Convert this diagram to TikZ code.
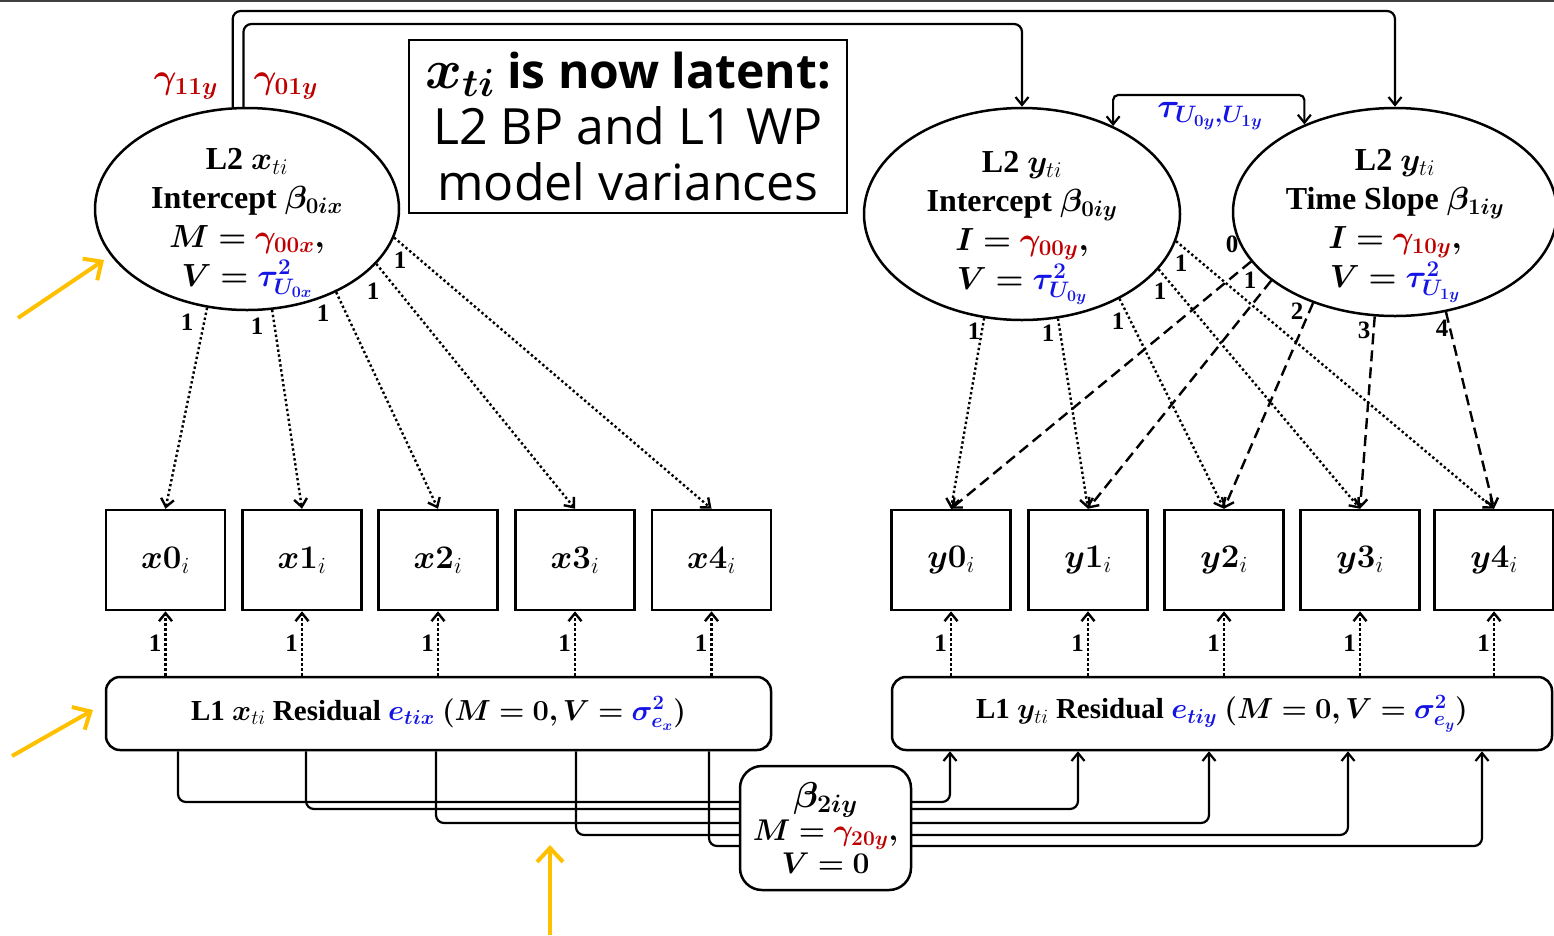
\RequirePackage{fix-cm}
\documentclass[tikz,border=0pt]{standalone}
\usepackage{amsmath}
\usepackage{bm}
\usepackage{fontspec}
\setmainfont{Liberation Serif}
\newfontfamily\headfont{Open Sans}
\usetikzlibrary{shapes.geometric,arrows.meta}
\definecolor{pathred}{RGB}{192,0,0}
\definecolor{varblue}{RGB}{20,20,230}
\definecolor{hint}{RGB}{255,192,0}
\newcommand{\gr}[1]{{\color{pathred}#1}}
\newcommand{\bl}[1]{{\color{varblue}#1}}
\newcommand{\fs}[2]{\fontsize{#1}{#2}\selectfont}

\tikzset{
  latent/.style={ellipse, draw, line width=2.5pt, inner sep=0pt},
  lattext/.style={align=center, inner sep=0pt, font=\fs{32}{39}\bfseries},
  obs/.style={rectangle, draw, line width=2.5pt, minimum width=119pt,
              minimum height=100pt, inner sep=0pt, font=\fs{33}{38}},
  resid/.style={rectangle, rounded corners=14pt, draw, line width=2.5pt,
                minimum height=73pt, inner sep=0pt, font=\fs{29}{34}\bfseries},
  modbox/.style={rectangle, rounded corners=22pt, draw, line width=2.5pt,
                 fill=white, minimum width=171pt, minimum height=124pt,
                 inner sep=0pt, align=center, font=\fs{30}{33}\bfseries},
  headbox/.style={rectangle, draw, line width=2pt, minimum width=438pt,
                  minimum height=173pt, inner sep=0pt, align=center,
                  font=\headfont\fs{50}{56}},
  lab/.style={inner sep=0pt, font=\fs{25}{25}\bfseries},
  conn/.style={line width=2.2pt, ->},
  dotc/.style={line width=2.4pt, dash pattern=on 2.4pt off 2.6pt, ->},
  dashc/.style={line width=2.4pt, dash pattern=on 11pt off 6pt, ->},
  hintarrow/.style={line width=4pt, color=hint,
                    -{Straight Barb[length=14pt,width=26pt]}}
}

\begin{document}
\begin{tikzpicture}[x=1pt, y=-1pt, >={Straight Barb[length=8pt,width=13pt]}]
\useasboundingbox (0,0) rectangle (1554,935);
\draw[line width=2pt, black!75] (0,1) -- (1554,1);

% ---------- level-2 latent factors ----------
\node[latent, minimum width=304pt, minimum height=202pt] (lx) at (247,209) {};
\node[lattext] (lxt) at (247,223)
  {L2 $\bm{x}_{ti}$\\ Intercept $\bm{\beta_{0ix}}$\\
   $\bm{M =} \gr{\bm{\gamma_{00x}}}\bm{,}$\\ $\bm{V =} \bl{\bm{\tau^2_{U_{0x}}}}$};

\node[latent, minimum width=316pt, minimum height=212pt] (yi) at (1022,214) {};
\node[lattext] (yit) at (1022,228)
  {L2 $\bm{y}_{ti}$\\ Intercept $\bm{\beta_{0iy}}$\\
   $\bm{I =} \gr{\bm{\gamma_{00y}}}\bm{,}$\\ $\bm{V =} \bl{\bm{\tau^2_{U_{0y}}}}$};

\node[latent, minimum width=324pt, minimum height=208pt] (ys) at (1395,212) {};
\node[lattext] (yst) at (1395,226)
  {L2 $\bm{y}_{ti}$\\ Time Slope $\bm{\beta_{1iy}}$\\
   $\bm{I =} \gr{\bm{\gamma_{10y}}}\bm{,}$\\ $\bm{V =} \bl{\bm{\tau^2_{U_{1y}}}}$};

% ---------- heading box ----------
\node[headbox] (head) at (628,126.5)
  {{\fs{48}{56}\bfseries{\fs{56}{56}$\bm{x_{ti}}$} is now latent:}\\ L2 BP and L1 WP\\ model variances};

% ---------- observed indicators ----------
\foreach \i/\xx in {0/165.5,1/302,2/438,3/575,4/711.5}
  \node[obs] (x\i) at (\xx,560) {$\bm{x\i}_i$};
\foreach \i/\xx in {0/951,1/1088,2/1224,3/1360,4/1494}
  \node[obs] (y\i) at (\xx,560) {$\bm{y\i}_i$};

% ---------- level-1 residuals ----------
\node[resid, minimum width=665pt] (rx) at (438.5,713.5)
  {L1 $\bm{x}_{ti}$ Residual $\bl{\bm{e_{tix}}}$ $\bm{(M = 0, V = }\bl{\bm{\sigma^2_{e_x}}}\bm{)}$};
\node[resid, minimum width=660pt] (ry) at (1222,713.5)
  {L1 $\bm{y}_{ti}$ Residual $\bl{\bm{e_{tiy}}}$ $\bm{(M = 0, V = }\bl{\bm{\sigma^2_{e_y}}}\bm{)}$};

% ---------- structural paths between level-2 factors ----------
\draw[conn, rounded corners=8pt] (lx.98) |- (ys.north |- 0,11) -- (ys.north);
\draw[conn, rounded corners=8pt] (lx.92) |- (yi.north |- 0,24) -- (yi.north);
\node[lab, font=\fs{35}{35}] (g11) at (186,86) {$\gr{\bm{\gamma_{11y}}}$};
\node[lab, font=\fs{35}{35}] (g01) at (286,86) {$\gr{\bm{\gamma_{01y}}}$};

% intercept-slope covariance
\draw[conn, <->, rounded corners=5pt] (yi.44) |- (ys.136 |- 0,95) -- (ys.136);
\node[lab, font=\fs{34}{34}] (tau) at (1210,116) {$\bl{\bm{\tau_{U_{0y},U_{1y}}}}$};

% ---------- loadings of x indicators ----------
\draw[dotc] (lx.-112) -- (x0.north);
\draw[dotc] (lx.-76)  -- (x1.north);
\draw[dotc] (lx.-43)  -- (x2.north);
\draw[dotc] (lx.-23)  -- (x3.north);
\draw[dotc] (lx.-11)  -- (x4.north);
\foreach \n/\p in {a/{187,322},b/{257,326},c/{323,313},d/{373,291},e/{400,260}}
  \node[lab] (lx\n) at (\p) {1};

% ---------- intercept loadings of y indicators ----------
\draw[dotc] (yi.-110) -- (y0.north);
\draw[dotc] (yi.-71)  -- (y1.north);
\draw[dotc] (yi.-41)  -- (y2.north);
\draw[dotc] (yi.-22)  -- (y3.north);
\draw[dotc] (yi.-10.5) -- (y4.north);
\foreach \n/\p in {a/{974,331},b/{1048,333},c/{1118,321},d/{1160,291},e/{1181,263}}
  \node[lab] (yi\n) at (\p) {1};

% ---------- slope loadings of y indicators ----------
\draw[dashc] (ys.-161) -- (y0.north);
\draw[dashc] (ys.-151) -- (y1.north);
\draw[dashc] (ys.-132) -- (y2.north);
\draw[dashc] (ys.-101) -- (y3.north);
\draw[dashc] (ys.-63)  -- (y4.north);
\node[lab] (s0) at (1232,244) {0};
\node[lab] (s1) at (1250,280) {1};
\node[lab] (s2) at (1297,311) {2};
\node[lab] (s3) at (1364,330) {3};
\node[lab] (s4) at (1442,328) {4};

% ---------- residual loadings ----------
\foreach \i in {0,...,4} {
  \draw[dotc] (rx.north -| x\i) -- node[lab, left=3pt] (rxl\i) {1} (x\i.south);
  \draw[dotc] (ry.north -| y\i) -- node[lab, left=3pt] (ryl\i) {1} (y\i.south);
}

% ---------- lagged within-person paths ----------
\foreach \a/\b/\h in {178/950/802, 306/1078/809, 436/1209/823, 576/1348/835, 709/1482/846}
  \draw[conn, rounded corners=8pt] (rx.south -| \a,0) |- (\b,\h) -- (ry.south -| \b,0);
\node[modbox] (beta) at (825.5,828)
  {{\fs{36}{36}$\bm{\beta_{2iy}}$}\\ $\bm{M =} \gr{\bm{\gamma_{20y}}}\bm{,}$\\ $\bm{V = 0}$};

% ---------- pointer arrows ----------
\coordinate (p1s) at (18,318);  \coordinate (p1e) at (104,260);
\coordinate (p2s) at (12,756);  \coordinate (p2e) at (93,710);
\coordinate (p3s) at (550,935); \coordinate (p3e) at (550,845);
\draw[hintarrow] (p1s) -- (p1e);
\draw[hintarrow] (p2s) -- (p2e);
\draw[hintarrow] (p3s) -- (p3e);
\end{tikzpicture}
\end{document}
